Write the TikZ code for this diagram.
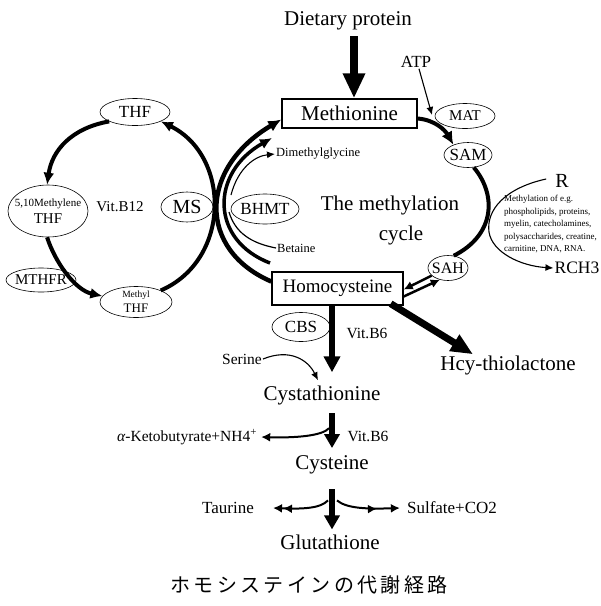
\documentclass[tikz,border=0pt]{standalone}
\usepackage{fontspec}
\setmainfont{Liberation Serif}
\newfontfamily\cjkfont[LetterSpace=17]{Noto Sans CJK JP}
\usetikzlibrary{shapes.geometric,arrows.meta}
\newcommand{\fsz}[1]{\fontsize{#1pt}{#1pt}\selectfont}
\begin{document}
\begin{tikzpicture}[x=1pt,y=-1pt,
  ell/.style={draw,ellipse,inner sep=-5pt,line width=0.6pt},
  bx/.style={draw,rectangle,inner sep=0pt,line width=1.4pt},
  txt/.style={inner sep=1pt},
  cycarc/.style={line width=4pt,-{Latex[length=12pt,width=11pt]}},
  thinarr/.style={line width=1.1pt,-{Latex[length=8pt,width=7pt]}},
  medarr/.style={line width=2.5pt,-{Latex[length=9pt,width=9pt]}},
  brarr/.style={line width=2pt}]
\fill[white] (0,0) rectangle (601,606);
\useasboundingbox (0,0) rectangle (601,606);

% ---- nodes ----
\node[txt,font=\fsz{21}] (diet) at (348,21) {Dietary protein};
\node[bx,minimum width=135pt,minimum height=29pt,font=\fsz{21}] (met) at (349.5,113.5) {Methionine};
\node[txt,font=\fsz{17}] (atp) at (416,62) {ATP};
\node[ell,minimum width=60pt,minimum height=25pt,font=\fsz{15}] (mat) at (465,116) {MAT};
\node[ell,minimum width=48pt,minimum height=25pt,font=\fsz{17}] (sam) at (468,155) {SAM};
\node[ell,minimum width=40pt,minimum height=25pt,font=\fsz{16}] (sah) at (448,268) {SAH};
\node[bx,minimum width=131pt,minimum height=33pt,font=\fsz{19}] (hcy) at (337.5,288.5) {Homocysteine};
\node[txt,font=\fontsize{21pt}{30pt}\selectfont,align=center] (cyc) at (390,220) {The methylation\\\hspace*{22pt}cycle};
\node[txt,font=\fsz{20}] (r) at (562,181) {R};
\node[txt,font=\fontsize{9pt}{12.5pt}\selectfont,align=left,anchor=north west] (mtext) at (503,194) {Methylation of e.g.\\phospholipids, proteins,\\myelin, catecholamines,\\polysaccharides, creatine,\\carnitine, DNA, RNA.};
\node[txt,font=\fsz{17.5}] (rch3) at (577,268) {RCH3};

\node[ell,minimum width=52pt,minimum height=30pt,font=\fsz{20}] (ms) at (187,207) {MS};
\node[ell,minimum width=68pt,minimum height=30pt,font=\fsz{17}] (bhmt) at (265,209) {BHMT};
\node[txt,font=\fsz{12.5},anchor=west] (dmg) at (275,154) {Dimethylglycine};
\node[txt,font=\fsz{12.5},anchor=west] (bet) at (276,248) {Betaine};

\node[ell,minimum width=70pt,minimum height=27pt,font=\fsz{17}] (thf) at (135,112) {THF};
\node[ell,minimum width=80pt,minimum height=52pt,align=center,font=\fontsize{11pt}{17pt}\selectfont] (mthf) at (48,211) {5,10Methylene\\{\fsz{15}THF}};
\node[ell,minimum width=70pt,minimum height=24pt,font=\fsz{15}] (mthfr) at (41,280) {MTHFR};
\node[ell,minimum width=72pt,minimum height=31pt,align=center,font=\fontsize{9.5pt}{15pt}\selectfont] (methylthf) at (136,302) {Methyl\\{\fsz{13}THF}};
\node[txt,font=\fsz{15}] (vb12) at (120,207) {Vit.B12};

\node[ell,minimum width=58pt,minimum height=29pt,font=\fsz{17}] (cbs) at (301,327) {CBS};
\node[txt,font=\fsz{15.5}] (vb6a) at (367,333) {Vit.B6};
\node[txt,font=\fsz{21}] (hcyt) at (508,365) {Hcy-thiolactone};
\node[txt,font=\fsz{15.5}] (ser) at (242,359) {Serine};
\node[txt,font=\fsz{21}] (cysta) at (322,395) {Cystathionine};
\node[txt,font=\fsz{15.5}] (akb) at (187,437) {\textit{α}-Ketobutyrate+NH4\textsuperscript{+}};
\node[txt,font=\fsz{15.5}] (vb6b) at (368,436) {Vit.B6};
\node[txt,font=\fsz{21}] (cys) at (332,465) {Cysteine};
\node[txt,font=\fsz{17}] (taur) at (228,508) {Taurine};
\node[txt,font=\fsz{17}] (sulf) at (452,508) {Sulfate+CO2};
\node[txt,font=\fsz{21}] (glu) at (330,542) {Glutathione};
\node[txt,font=\cjkfont\fsz{20}] (cap) at (309,585) {ホモシステインの代謝経路};

% ---- coordinates ----
\coordinate (atpend) at (432,115);
\coordinate (a2s) at (270,263);
\coordinate (a2e) at (272,138);
\coordinate (a3s) at (231,195);
\coordinate (a4e) at (229,212);
\coordinate (c0) at (hcy.south |- cysta.north);
\coordinate (c1) at (cys.north |- cysta.south);
\coordinate (c3) at (cys.south |- glu.north);

% ---- connectors ----
\draw[line width=8pt,-{Triangle[length=25pt,width=21pt]}] ([xshift=6pt,yshift=-5pt]diet.south) -- ([xshift=6pt]diet.south |- met.north);
\draw[thinarr] ([xshift=3pt]atp.south) -- (atpend);
\draw[line width=4pt,-{Latex[length=13pt,width=12pt]}] ([yshift=-5pt]met.east) .. controls (435,120) and (445,130) .. (sam.145);
\draw[line width=4pt] (sam.-65) .. controls (497,195) and (495,235) .. (sah.65);
\draw[thinarr] ([xshift=-8pt,yshift=2pt]r.west) .. controls (505,188) and (486,210) .. (489,232) .. controls (492,252) and (520,266) .. (rch3.west);
\draw[medarr] (sah.205) -- ([yshift=-1pt]hcy.east);
\draw[medarr] ([yshift=-8pt]hcy.east) -- (sah.235);
\draw[line width=7pt,-{Triangle[length=22pt,width=18pt]}] ([xshift=-13pt,yshift=2pt]hcy.south east) -- ([xshift=-35pt]hcyt.north);
\draw[line width=6.5pt,-{Triangle[length=16pt,width=16pt]}] ([xshift=-5.5pt]hcy.south) -- ([xshift=-5.5pt,yshift=12pt]c0);
\draw[thinarr] (ser.east) .. controls (290,348) and (308,360) .. ([xshift=-4pt,yshift=4pt]cysta.north);
\draw[line width=6pt,-{Triangle[length=14pt,width=15pt]}] ([yshift=-7.5pt]c1) -- ([yshift=6.5pt]cys.north);
\coordinate (br1) at ([xshift=-3pt,yshift=-22.5pt]c1);
\draw[brarr,-{Latex[length=9pt,width=9pt]}] (br1) .. controls (322,436) and (295,438) .. ([xshift=3pt]akb.east);
\draw[line width=6pt,-{Triangle[length=14pt,width=15pt]}] ([yshift=-14pt]cys.south) -- ([yshift=4pt]c3);
\coordinate (br2) at ([xshift=-4pt,yshift=-25pt]cys.south);
\coordinate (br3) at ([xshift=5pt,yshift=-25pt]cys.south);
\draw[brarr,-{Latex[length=9pt,width=9pt,sep=1pt]Latex[length=9pt,width=9pt]}] (br2) .. controls (320,509) and (300,509) .. ([xshift=18pt]taur.east);
\draw[brarr,-{Latex[length=9pt,width=9pt,sep=14pt]Latex[length=9pt,width=9pt]}] (br3) .. controls (347,509) and (370,509) .. ([xshift=-6pt]sulf.west);

% left side (BHMT)
\draw[line width=4.5pt,-{Latex[length=13pt,width=12pt]}] ([yshift=7pt]hcy.west) .. controls (198,250) and (198,169) .. ([yshift=-6pt]met.west);
\draw[line width=3.5pt,-{Latex[length=12pt,width=11pt]}] (a2s) .. controls (210,240) and (210,173) .. (a2e);
\draw[thinarr] (a3s) .. controls (238,168) and (255,156) .. (dmg.west);
\draw[line width=1.2pt] (bet.west) .. controls (250,243) and (235,232) .. (a4e);

% folate cycle
\draw[cycarc] (thf.200) .. controls (72,128) and (52,150) .. (mthf.92);
\draw[cycarc] (mthf.-92) .. controls (55,262) and (75,290) .. (methylthf.170);
\draw[cycarc] (methylthf.25) .. controls (231,260) and (231,156) .. (thf.-20);
\end{tikzpicture}
\end{document}
